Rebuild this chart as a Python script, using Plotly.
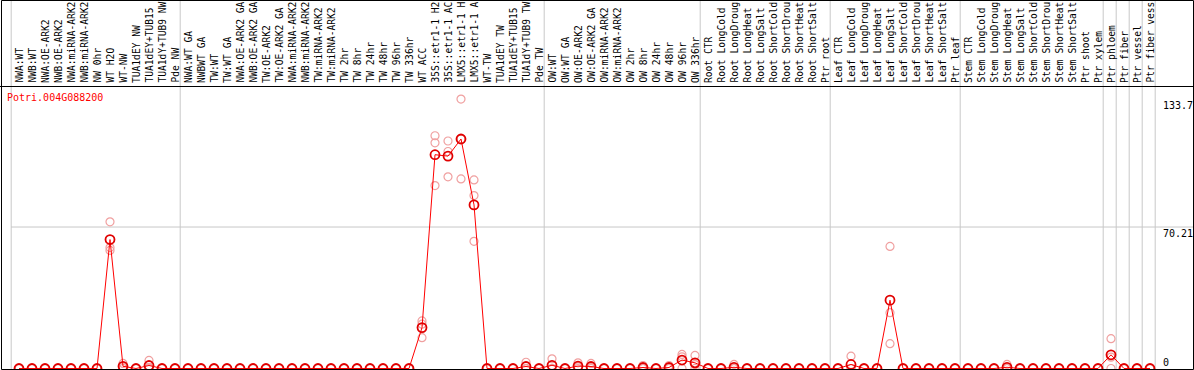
import plotly.graph_objects as go

labels = [
    "NWA:WT", "NWB:WT", "NWA:OE-ARK2", "NWB:OE-ARK2", "NWA:miRNA-ARK2", "NWB:miRNA-ARK2",
    "NW 0hr", "WT H2O", "WT-NW", "TUA1dEY NW", "TUA1dEY+TUB15", "TUA1dY+TUB9 NW", "Pde NW",
    "NWA:WT GA", "NWBWT GA", "TW:WT", "TW:WT GA", "NWA:OE-ARK2 GA", "NWB:OE-ARK2 GA",
    "TW:OE-ARK2", "TW:OE-ARK2 GA", "NWA:miRNA-ARK2", "NWB:miRNA-ARK2", "TW:miRNA-ARK2",
    "TW:miRNA-ARK2", "TW 2hr", "TW 8hr", "TW 24hr", "TW 48hr", "TW 96hr", "TW 336hr",
    "WT ACC", "35S::etr1-1 H2", "35S::etr1-1 AC", "LMX5::etr1-1 H", "LMX5::etr1-1 A",
    "WT-TW", "TUA1dEY TW", "TUA1dEY+TUB15", "TUA1dY+TUB9 TW", "Pde TW",
    "OW:WT", "OW:WT GA", "OW:OE-ARK2", "OW:OE-ARK2 GA", "OW:miRNA-ARK2", "OW:miRNA-ARK2",
    "OW 2hr", "OW 8hr", "OW 24hr", "OW 48hr", "OW 96hr", "OW 336hr",
    "Root CTR", "Root LongCold", "Root LongDroug", "Root LongHeat", "Root LongSalt",
    "Root ShortCold", "Root ShortDrou", "Root ShortHeat", "Root ShortSalt", "Ptr root",
    "Leaf CTR", "Leaf LongCold", "Leaf LongDroug", "Leaf LongHeat", "Leaf LongSalt",
    "Leaf ShortCold", "Leaf ShortDrou", "Leaf ShortHeat", "Leaf ShortSalt", "Ptr leaf",
    "Stem CTR", "Stem LongCold", "Stem LongDroug", "Stem LongHeat", "Stem LongSalt",
    "Stem ShortCold", "Stem ShortDrou", "Stem ShortHeat", "Stem ShortSalt", "Ptr shoot",
    "Ptr xylem", "Ptr phloem", "Ptr fiber", "Ptr vessel", "Ptr fiber vess",
]

mean_vals = [
    0, 0, 0, 0, 0, 0, 0, 64.0, 1.1, 0, 1.5, 0, 0,
    0, 0, 0, 0, 0, 0, 0, 0, 0, 0, 0, 0, 0, 0, 0, 0, 0, 0,
    20.3, 106.1, 105.4, 113.9, 81.2, 0, 0, 0, 1.0, 0,
    1.6, 0, 1.2, 1.0, 0, 0, 0, 0.5, 0, 0.5, 4.2, 2.8,
    0, 0, 0.6, 0, 0, 0, 0, 0, 0, 0,
    0, 2.0, 0, 0, 33.9, 0, 0, 0, 0, 0,
    0, 0, 0, 0.6, 0, 0, 0, 0, 0, 0,
    0, 6.8, 0, 0, 0,
]

rep1 = [
    0, 0, 0, 0, 0, 0, 0, 72.8, 2.5, 0, 4.0, 0, 0,
    0, 0, 0, 0, 0, 0, 0, 0, 0, 0, 0, 0, 0, 0, 0, 0, 0, 0,
    23.6, 115.5, 112.9, 133.7, 93.6, 0, 0, 0, 3.1, 0,
    4.8, 0, 2.8, 2.5, 0, 0, 0, 1.5, 0, 1.5, 7.0, 6.5,
    0, 0, 2.0, 0, 0, 0, 0, 0, 0, 0,
    0, 6.1, 0, 0, 60.6, 0, 0, 0, 0, 0,
    0, 0, 0, 2.0, 0, 0, 0, 0, 0, 0,
    0, 14.8, 0, 0, 0,
]

rep2 = [
    0, 0, 0, 0, 0, 0, 0, 60.0, 0.8, 0, 0.5, 0, 0,
    0, 0, 0, 0, 0, 0, 0, 0, 0, 0, 0, 0, 0, 0, 0, 0, 0, 0,
    22.0, 112.0, 107.7, 113.9, 85.8, 0, 0, 0, 0, 0,
    0, 0, 0.8, 0.5, 0, 0, 0, 0, 0, 0, 5.8, 1.9,
    0, 0, 0, 0, 0, 0, 0, 0, 0, 0,
    0, 0, 0, 0, 27.7, 0, 0, 0, 0, 0,
    0, 0, 0, 0, 0, 0, 0, 0, 0, 0,
    0, 5.6, 0, 0, 0,
]

rep3 = [
    0, 0, 0, 0, 0, 0, 0, 58.6, 0, 0, 0, 0, 0,
    0, 0, 0, 0, 0, 0, 0, 0, 0, 0, 0, 0, 0, 0, 0, 0, 0, 0,
    15.3, 90.8, 95.1, 94.1, 63.1, 0, 0, 0, 0, 0,
    0, 0, 0, 0, 0, 0, 0, 0, 0, 0, 0, 0,
    0, 0, 0, 0, 0, 0, 0, 0, 0, 0,
    0, 0, 0, 0, 12.3, 0, 0, 0, 0, 0,
    0, 0, 0, 0, 0, 0, 0, 0, 0, 0,
    0, 0, 0, 0, 0,
]

# index of last category before each separator line
group_ends = [-1, 12, 40, 52, 62, 72, 83, 84, 85, 86, 87]
y_ticks = [133.7, 70.21, 0]
y_tick_text = ["133.7", "70.21", "0"]
gene = "Potri.004G088200"

W, H = 1194, 370
X0, DX = 19.0, 13.0          # pixel of first category, pixel step
Y0, PPU = 368.5, 2.015       # pixel of value 0, pixels per unit

def px2x(p):
    return (p - X0) / DX

def py2paper(p):
    return 1 - p / H

xs = list(range(len(labels)))
FONT = "DejaVu Sans Mono"

fig = go.Figure()
for r in (rep1, rep2, rep3):
    fig.add_trace(go.Scatter(
        x=xs, y=r, mode="markers",
        marker=dict(symbol="circle-open", size=8, color="#f0a0a0",
                    line=dict(width=1.2, color="#f0a0a0")),
        hoverinfo="skip", showlegend=False, cliponaxis=False))
fig.add_trace(go.Scatter(
    x=xs, y=mean_vals, mode="lines+markers",
    line=dict(color="#ff0000", width=1),
    marker=dict(symbol="circle-open", size=9, color="#e00000",
                line=dict(width=1.8, color="#e00000")),
    showlegend=False, cliponaxis=False))

shapes = []
for g in group_ends:
    xv = g + 0.4
    shapes.append(dict(type="line", xref="x", yref="paper", x0=xv, x1=xv, y0=0, y1=1,
                       line=dict(color="#c8c8c8", width=1), layer="below"))
# horizontal grid line at middle tick
shapes.append(dict(type="line", xref="paper", yref="y", x0=11 / W, x1=1,
                   y0=y_ticks[1], y1=y_ticks[1],
                   line=dict(color="#c8c8c8", width=1), layer="below"))
# black frame and divider
shapes.append(dict(type="rect", xref="paper", yref="paper",
                   x0=1.5 / W, x1=1193.5 / W, y0=py2paper(369.5), y1=py2paper(0.5),
                   line=dict(color="black", width=1)))
shapes.append(dict(type="line", xref="paper", yref="paper",
                   x0=0, x1=1, y0=py2paper(86.5), y1=py2paper(86.5),
                   line=dict(color="black", width=1)))

ann = []
for i, lab in enumerate(labels):
    ann.append(dict(x=i, xref="x", y=py2paper(84), yref="paper", text=lab,
                    textangle=-90, xanchor="center", yanchor="bottom",
                    showarrow=False, borderpad=0,
                    font=dict(family=FONT, size=9.6, color="black")))
ann.append(dict(x=6 / W, xref="paper", y=py2paper(97), yref="paper", text=gene,
                xanchor="left", yanchor="middle", showarrow=False, borderpad=0,
                font=dict(family=FONT, size=10, color="#ff0000")))
for v, t in zip(y_ticks, y_tick_text):
    if v == 0:
        ann.append(dict(x=1162 / W, xref="paper", y=v, yref="y", yshift=6, text=t,
                        xanchor="left", yanchor="middle", showarrow=False, borderpad=0,
                        font=dict(family=FONT, size=10, color="black")))
    else:
        ann.append(dict(x=1162 / W, xref="paper", y=v, yref="y", text=t,
                        xanchor="left", yanchor="top", showarrow=False, borderpad=0,
                        font=dict(family=FONT, size=10, color="black")))

fig.update_layout(
    width=W, height=H, margin=dict(l=0, r=0, t=0, b=0),
    paper_bgcolor="white", plot_bgcolor="white",
    xaxis=dict(range=[px2x(0), px2x(W)], visible=False, fixedrange=True),
    yaxis=dict(range=[-(H - Y0) / PPU, Y0 / PPU], visible=False, fixedrange=True),
    shapes=shapes, annotations=ann, showlegend=False,
)
fig.write_html(
    "out.html",
    config={"displayModeBar": False},
    post_script="document.body.style.margin='0';document.body.style.overflow='hidden';",
)
